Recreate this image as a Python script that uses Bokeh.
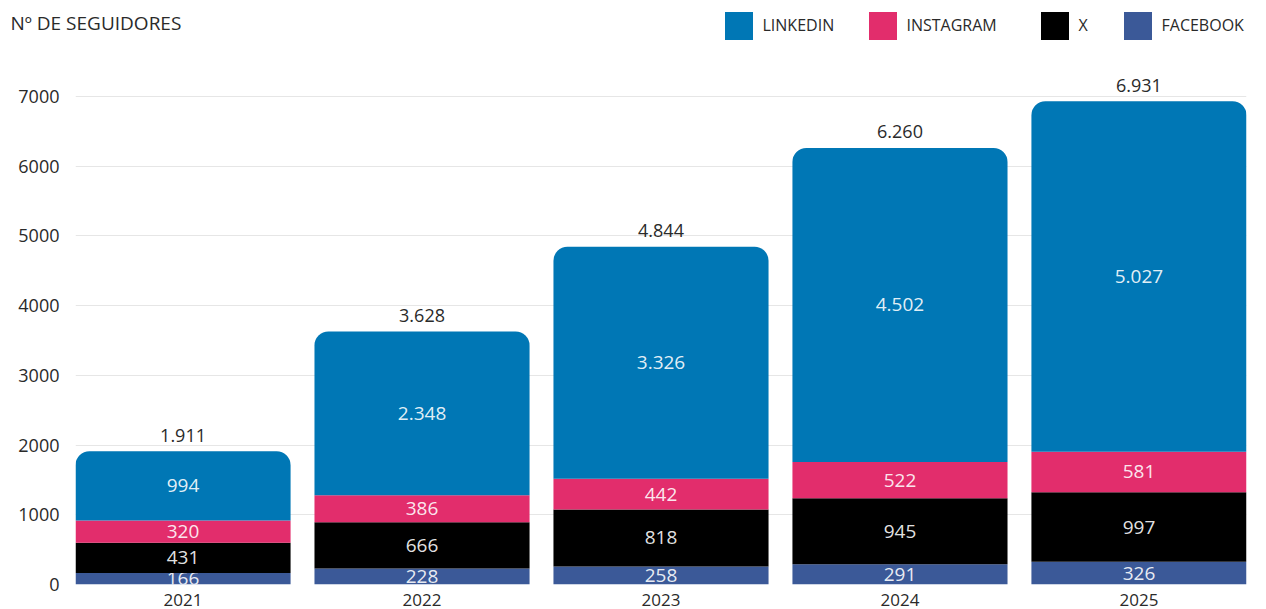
from bokeh.plotting import figure
from bokeh.models import Range1d, Legend, LegendItem, Label, ColumnDataSource, FixedTicker
from bokeh.embed import file_html
from bokeh.resources import INLINE
from bokeh.core.properties import value

years = ["2021", "2022", "2023", "2024", "2025"]
facebook = [166, 228, 258, 291, 326]
x_tw = [431, 666, 818, 945, 997]
instagram = [320, 386, 442, 522, 581]
linkedin = [994, 2348, 3326, 4502, 5027]
y_ticks = [0, 1000, 2000, 3000, 4000, 5000, 6000, 7000]
legend_names = ["LINKEDIN", "INSTAGRAM", "X", "FACEBOOK"]

FONT = "Open Sans"
TXT = "#2a2a2a"
COLORS = {"LINKEDIN": "#0077b5", "INSTAGRAM": "#e22d6c", "X": "#000000", "FACEBOOK": "#3b5998"}

def fmt(v):
    return f"{v:,}".replace(",", ".")

W = 1266
TOP_H = 50
MAIN_H = 559

# ---------- header (title + legend) ----------
head = figure(width=W, height=TOP_H, output_backend="svg", toolbar_location=None,
              x_range=Range1d(0, 1), y_range=Range1d(0, 1),
              x_axis_location=None, y_axis_location=None,
              min_border_left=0, min_border_right=0, min_border_top=0, min_border_bottom=0)
head.grid.visible = False
head.outline_line_color = None

title = Label(x=10, y=TOP_H - 22, x_units="screen", y_units="screen", text="Nº DE SEGUIDORES",
              text_font=FONT, text_font_size="19px", text_color=TXT, text_baseline="middle")
head.add_layout(title)

# legend glyph area is inset by 10% per side, so 35px area -> 28px swatch
legend_x = [724, 868, 1040, 1123]
for name, lx in zip(legend_names, legend_x):
    r = head.vbar(x=[5], top=[1], width=0.5, fill_color=COLORS[name], line_color=None,
                  border_radius=3)
    lg = Legend(items=[LegendItem(label=name, renderers=[r])],
                location=(lx - 3.5, TOP_H - 42.5),
                glyph_width=35, glyph_height=35, label_standoff=7,
                padding=0, margin=0, border_line_color=None, background_fill_alpha=0,
                label_text_font=FONT, label_text_font_size="16px", label_text_color=TXT)
    head.add_layout(lg)

# ---------- main chart ----------
xs = list(range(len(years)))
series = [("FACEBOOK", facebook), ("X", x_tw), ("INSTAGRAM", instagram), ("LINKEDIN", linkedin)]

p = figure(width=W, height=MAIN_H, output_backend="svg", toolbar_location=None,
           x_range=Range1d(-0.45, 4.45), y_range=Range1d(0, 7400),
           min_border_left=75, min_border_right=20, min_border_top=18, min_border_bottom=25)
p.outline_line_color = None

bottoms = [0] * len(years)
for name, vals in series:
    tops = [b + v for b, v in zip(bottoms, vals)]
    src = ColumnDataSource(dict(x=xs, bottom=bottoms, top=tops,
                                mid=[(b + t) / 2 for b, t in zip(bottoms, tops)],
                                lab=[fmt(v) for v in vals]))
    kw = {"border_radius": (14, 14, 0, 0)} if name == "LINKEDIN" else {}
    p.vbar(x="x", bottom="bottom", top="top", width=0.9, source=src,
           fill_color=COLORS[name], line_color=None, **kw)
    p.text(x="x", y="mid", text="lab", source=src, text_align="center",
           text_baseline="middle", text_color="white", text_alpha=0.9,
           text_font=value(FONT), text_font_size="19px")
    bottoms = tops

tot_src = ColumnDataSource(dict(x=xs, y=bottoms, lab=[fmt(t) for t in bottoms]))
p.text(x="x", y="y", text="lab", source=tot_src, text_align="center",
       text_baseline="middle", y_offset=-16, text_color=TXT,
       text_font=value(FONT), text_font_size="18px")

p.xaxis.ticker = FixedTicker(ticks=xs)
p.xaxis.major_label_overrides = {i: y for i, y in zip(xs, years)}
p.yaxis.ticker = FixedTicker(ticks=y_ticks)
for ax in (p.xaxis, p.yaxis):
    ax.axis_line_color = None
    ax.major_tick_line_color = None
    ax.minor_tick_line_color = None
    ax.major_label_text_font = FONT
    ax.major_label_text_color = TXT
p.xaxis.major_label_text_font_size = "17px"
p.yaxis.major_label_text_font_size = "18px"
p.xaxis.major_label_standoff = 3
p.yaxis.major_label_standoff = 10
p.xgrid.grid_line_color = None
p.ygrid.grid_line_color = "#e6e6e6"
p.ygrid.ticker = FixedTicker(ticks=y_ticks)

open("out.html", "w").write(file_html([head, p], INLINE))
